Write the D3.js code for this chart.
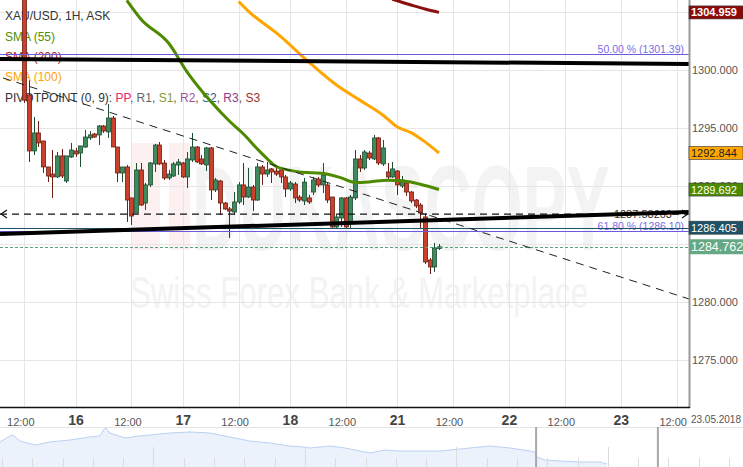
<!DOCTYPE html>
<html><head><meta charset="utf-8">
<script src="https://cdn.jsdelivr.net/npm/d3@7/dist/d3.min.js"></script>
<style>body{margin:0;background:#fff;overflow:hidden}svg{display:block;font-family:"Liberation Sans",Arial,sans-serif}</style>
</head><body><svg id="c" width="743" height="467"></svg>
<script>
// ---------- DATA ----------
const candleOpen  = [1308,1297.84,1293.02,1294.57,1293.88,1291.64,1291.03,1290.78,1292.59,1290.43,1292.50,1293.02,1292.84,1293.36,1294.14,1294.48,1294.40,1295.17,1294.66,1295.86,1293.36,1291.12,1291.64,1288.97,1287.67,1291.38,1288.53,1290.09,1291.90,1293.53,1291.98,1290.69,1290.86,1291.81,1291.98,1290.78,1292.24,1293.36,1292.33,1291.81,1293.28,1289.66,1290.43,1288.53,1288.02,1287.76,1288.62,1290.09,1289.05,1289.91,1288.79,1291.64,1291.03,1291.47,1291.29,1291.38,1290.78,1289.74,1290.17,1289.05,1288.71,1288.97,1289.48,1290.60,1290.09,1290.09,1289.05,1286.47,1287.24,1288.97,1286.81,1288.97,1292.33,1291.55,1292.84,1292.33,1294.14,1291.90,1291.21,1290.78,1291.29,1290.00,1290.26,1289.48,1288.79,1288.36,1287.33,1283.62,1283.02,1284.62];
const candleHigh  = [1309,1299.10,1295.95,1295.60,1293.88,1291.64,1293.10,1292.93,1293.19,1292.59,1293.71,1293.28,1293.45,1294.83,1294.74,1294.57,1295.26,1295.26,1297.07,1296.03,1293.36,1291.64,1291.81,1288.97,1291.98,1291.98,1290.26,1292.07,1293.62,1293.79,1292.24,1291.38,1292.07,1292.33,1292.07,1292.93,1294.57,1293.45,1292.67,1293.36,1293.36,1290.69,1290.52,1288.62,1288.19,1289.48,1290.34,1291.98,1291.55,1290.09,1291.98,1291.81,1292.07,1291.55,1291.64,1291.55,1290.95,1290.43,1290.34,1289.22,1290.69,1289.22,1290.78,1290.78,1291.98,1290.26,1289.05,1287.50,1289.05,1289.05,1289.22,1293.10,1292.67,1293.10,1293.02,1294.40,1294.22,1293.97,1291.98,1292.07,1291.38,1290.86,1290.34,1289.57,1288.88,1288.53,1287.67,1283.79,1285.09,1285.00];
const candleLow   = [1297.16,1292.07,1292.67,1293.36,1291.12,1290.34,1288.97,1290.69,1290.69,1290.26,1292.41,1292.50,1291.64,1293.28,1293.97,1294.14,1293.53,1294.57,1294.14,1293.36,1290.34,1290.34,1286.90,1286.64,1287.67,1288.28,1287.93,1289.91,1291.21,1291.81,1290.52,1290.52,1290.78,1290.95,1290.69,1289.83,1292.07,1291.98,1291.81,1291.29,1288.79,1289.48,1287.50,1287.93,1285.52,1287.50,1288.45,1288.36,1288.97,1287.84,1288.71,1290.09,1290.78,1290.26,1290.86,1290.26,1289.05,1289.57,1288.53,1288.62,1288.36,1288.45,1289.22,1289.91,1289.40,1288.53,1286.38,1286.38,1286.47,1286.38,1286.38,1288.79,1291.21,1291.38,1292.24,1292.24,1291.81,1291.72,1290.52,1290.69,1289.22,1289.83,1289.14,1288.53,1288.10,1286.38,1283.28,1282.41,1282.59,1284.48];
const candleClose = [1297.40,1293.02,1294.57,1293.71,1291.64,1290.86,1290.78,1292.59,1290.86,1292.59,1293.10,1292.76,1293.45,1294.22,1294.40,1294.22,1295.17,1294.74,1295.86,1293.36,1291.12,1291.64,1288.79,1287.41,1291.38,1288.36,1290.09,1291.98,1293.53,1291.90,1290.69,1291.03,1291.90,1292.07,1290.78,1292.33,1293.36,1292.07,1291.90,1293.28,1289.66,1290.52,1288.53,1288.02,1287.84,1288.62,1290.09,1289.05,1289.91,1288.79,1291.64,1291.03,1291.38,1291.21,1291.03,1290.78,1289.74,1290.26,1288.97,1288.79,1290.34,1288.62,1290.52,1290.09,1290.95,1288.79,1286.47,1287.33,1288.97,1286.47,1289.05,1292.33,1291.55,1292.93,1292.41,1294.14,1291.98,1293.28,1290.78,1291.47,1290.09,1290.52,1289.48,1288.71,1288.28,1287.67,1283.45,1283.02,1284.66,1284.762];

const sma55Idx  = [22,25,31,35,40,44,47,50,52,54,57,59,64,68,71,74,78,81,85,89];
const sma55Val  = [1306.0,1304.4,1302.3,1299.8,1297.3,1295.6,1294.5,1293.2,1292.4,1291.7,1291.35,1291.2,1291.1,1290.7,1290.3,1290.35,1290.5,1290.45,1290.15,1289.692];
const sma100Idx = [46,48,55,61,67,72,77,80,83,86,89];
const sma100Val = [1305.9,1305.1,1302.9,1300.7,1298.7,1297.4,1296.1,1295.1,1294.6,1293.8,1292.844];
const sma200Idx = [79,83,86,89];
const sma200Val = [1306.1,1305.6,1305.25,1304.959];

const xTickIdx    = [0,11,23,34,46,57,69,80,92,104,116,128,140];
const xTickLabels = ["12:00","16","12:00","17","12:00","18","12:00","21","12:00","22","12:00","23","12:00"];
const yTickValues = [1275,1280,1285,1290,1295,1300,1305];

const fibLevels = [50.00, 61.80];
const fibPrices = [1301.39, 1286.10];
const pivotS2 = 1286.405;
const hLinePrice = 1287.58203;
const lastPrice = 1284.762;
// trend lines [idx0, price0, idx1, price1]
const thickLines = [[-5.21,1300.95,142.65,1300.52],[-5.21,1285.86,142.65,1287.76]];
const dashedTrend = [-4.57,1299.31,142.65,1280.26];

// navigator (days, price)
const navDay = [-0.07,0.26,0.36,0.59,1.09,1.42,1.58,1.91,2.24,2.90,3.23,3.37,3.43,3.56,4.06,4.55,4.88,5.54,6.20,6.86,7.52,8.18,8.84,9.50,9.97,10.17,10.83,11.32,11.82,12.15,12.64,13.14,13.80,14.46,15.12,15.78,16.11,16.44,16.77,17.43,17.59,17.66,17.92,18.42,19.08,19.74,19.97];
const navVal = [1296.25,1300.15,1300.8,1296.9,1294.3,1295.6,1296.25,1296.9,1297.55,1299.5,1300.15,1304.7,1305.35,1302.1,1298.85,1300.15,1300.8,1302.1,1302.75,1302.1,1299.5,1296.9,1295.6,1293.65,1293.0,1292.35,1293.65,1292.35,1290.4,1289.1,1291.05,1290.4,1290.4,1290.4,1291.7,1293.0,1293.65,1293.0,1292.35,1290.4,1289.75,1286.5,1284.55,1283.9,1283.25,1283.25,1281.95];
const navWindow = [17.63, 21.65];

// ---------- SCALES ----------
const W = 689, H = 407;
const svg = d3.select("#c");
const x = d3.scaleLinear().domain([-5.21,142.65]).range([0,W]);
const y = d3.scaleLinear().domain([1270.95,1306.03]).range([H,0]);

svg.append("defs").append("clipPath").attr("id","plot").append("rect").attr("x",0).attr("y",0).attr("width",W).attr("height",H);

// ---------- WATERMARK ----------
const wm = svg.append("g").attr("clip-path","url(#plot)");
wm.append("rect").attr("x",132).attr("y",143).attr("width",58).attr("height",107).attr("fill","#fcf0f0");
wm.append("rect").attr("x",160).attr("y",143).attr("width",9).attr("height",107).attr("fill","#fff");
wm.append("text").attr("x",192).attr("y",250).attr("font-size",120).attr("font-weight","bold")
  .attr("textLength",418).attr("lengthAdjust","spacingAndGlyphs").attr("fill","#f3f3f3").text("DUKASCOPY");
wm.append("text").attr("x",130).attr("y",308).attr("font-size",44)
  .attr("textLength",458).attr("lengthAdjust","spacingAndGlyphs").attr("fill","#f3f3f3").text("Swiss Forex Bank & Marketplace");

// ---------- GRID ----------
const grid = svg.append("g");
grid.selectAll(".gy").data(yTickValues).join("line")
  .attr("x1",0).attr("x2",W).attr("y1",d=>Math.round(y(d))+0.5).attr("y2",d=>Math.round(y(d))+0.5)
  .attr("stroke","#e6e6e6");
grid.selectAll(".gx").data(xTickIdx).join("line")
  .attr("y1",0).attr("y2",H).attr("x1",d=>Math.round(x(d))+0.5).attr("x2",d=>Math.round(x(d))+0.5)
  .attr("stroke","#e6e6e6");

// ---------- LEGEND ----------
const lg = svg.append("g").attr("font-size",12);
lg.append("text").attr("x",5).attr("y",20).attr("fill","#333").text("XAU/USD, 1H, ASK");
lg.append("text").attr("x",5).attr("y",40.5).attr("fill","#4f8f00").text("SMA (55)");
lg.append("text").attr("x",5).attr("y",60.5).attr("fill","#a52a2a").text("SMA (200)");
lg.append("text").attr("x",5).attr("y",80.5).attr("fill","#ffa500").text("SMA (100)");
const pv = lg.append("text").attr("x",5).attr("y",101.5).attr("fill","#333");
const pvParts = [["PIVOTPOINT (0, 9): ","#333"],["PP","#e8246b"],[", ","#555"],["R1","#666"],[", ","#555"],["S1","#8a9a2a"],[", ","#555"],["R2","#a050a0"],[", ","#555"],["S2","#2a6080"],[", ","#555"],["R3","#8a3a8a"],[", ","#555"],["S3","#a03030"]];
pvParts.forEach(p=>pv.append("tspan").attr("fill",p[1]).text(p[0]));

// ---------- CANDLES ----------
const plot = svg.append("g").attr("clip-path","url(#plot)");
const idx = d3.range(candleOpen.length);
const up = i => candleClose[i] >= candleOpen[i];
const cg = plot.append("g");
cg.selectAll("line.w").data(idx).join("line")
  .attr("x1",i=>Math.round(x(i))+0.5).attr("x2",i=>Math.round(x(i))+0.5)
  .attr("y1",i=>y(candleHigh[i])).attr("y2",i=>y(candleLow[i]))
  .attr("stroke",i=>up(i)?"#1f4f33":"#6e1f14").attr("stroke-width",1);
cg.selectAll("rect.b").data(idx).join("rect")
  .attr("x",i=>Math.round(x(i))-1.5).attr("width",4)
  .attr("y",i=>y(Math.max(candleOpen[i],candleClose[i])))
  .attr("height",i=>Math.max(1,Math.abs(y(candleOpen[i])-y(candleClose[i]))))
  .attr("fill",i=>up(i)?"#3d8a5c":"#c9402c")
  .attr("stroke",i=>up(i)?"#1f4f33":"#6e1f14").attr("stroke-width",0.8);

// ---------- SMA ----------
const lineGen = d3.line().x(d=>x(d[0])).y(d=>y(d[1])).curve(d3.curveMonotoneX);
[[sma200Idx,sma200Val,"#8b1010"],[sma100Idx,sma100Val,"#ffa500"],[sma55Idx,sma55Val,"#4e8a00"]].forEach(s=>{
  plot.append("path").datum(s[0].map((d,k)=>[d,s[1][k]])).attr("d",lineGen)
    .attr("fill","none").attr("stroke",s[2]).attr("stroke-width",3).attr("stroke-linejoin","round");
});

// ---------- HORIZONTAL LEVELS ----------
fibPrices.forEach((p,k)=>{
  plot.append("line").attr("x1",0).attr("x2",W).attr("y1",Math.round(y(p))+0.5).attr("y2",Math.round(y(p))+0.5)
    .attr("stroke","#6a5ae0").attr("stroke-width",1);
  plot.append("text").attr("x",684).attr("y",Math.round(y(p))-1).attr("text-anchor","end")
    .attr("font-size",10.5).attr("fill","#7a6ee6").text(fibLevels[k].toFixed(2)+" % ("+p.toFixed(2)+")");
});
plot.append("line").attr("x1",0).attr("x2",W).attr("y1",Math.round(y(pivotS2))+0.5).attr("y2",Math.round(y(pivotS2))+0.5)
  .attr("stroke","#1e5268").attr("stroke-width",1);
plot.append("line").attr("x1",0).attr("x2",W).attr("y1",Math.round(y(lastPrice))+0.5).attr("y2",Math.round(y(lastPrice))+0.5)
  .attr("stroke","#5aa37a").attr("stroke-width",1).attr("stroke-dasharray","3,2");

// dashed horizontal with label
plot.append("text").attr("x",672).attr("y",y(hLinePrice)+4).attr("text-anchor","end")
  .attr("font-size",11).attr("fill","#333").text(hLinePrice.toFixed(5));
plot.append("line").attr("x1",0).attr("x2",W).attr("y1",y(hLinePrice)).attr("y2",y(hLinePrice))
  .attr("stroke","#111").attr("stroke-width",1.3).attr("stroke-dasharray","7,5");
const hy = y(hLinePrice);
plot.append("path").attr("d",`M7,${hy-4}L1,${hy}L7,${hy+4}`).attr("fill","none").attr("stroke","#111").attr("stroke-width",1.2);
plot.append("path").attr("d",`M${W-7},${hy-4}L${W-1},${hy}L${W-7},${hy+4}`).attr("fill","none").attr("stroke","#111").attr("stroke-width",1.2);

// dashed trend
plot.append("line").attr("x1",x(dashedTrend[0])).attr("y1",y(dashedTrend[1])).attr("x2",x(dashedTrend[2])).attr("y2",y(dashedTrend[3]))
  .attr("stroke","#222").attr("stroke-width",1).attr("stroke-dasharray","8,6");

// thick lines
thickLines.forEach(t=>{
  plot.append("line").attr("x1",x(t[0])).attr("y1",y(t[1])).attr("x2",x(t[2])).attr("y2",y(t[3]))
    .attr("stroke","#000").attr("stroke-width",4);
});

// ---------- AXES ----------
const yAxis = svg.append("g").attr("transform",`translate(${W},0)`)
  .call(d3.axisRight(y).tickValues(yTickValues).tickFormat(d3.format(".3f")).tickSize(0).tickPadding(3));
yAxis.select(".domain").remove();
yAxis.selectAll("text").attr("font-size",11).attr("fill","#555").attr("font-family","Liberation Sans, Arial, sans-serif");
svg.append("line").attr("x1",W+0.5).attr("x2",W+0.5).attr("y1",0).attr("y2",H+1).attr("stroke","#999").attr("stroke-width",2);

const xAxis = svg.append("g").attr("transform",`translate(0,${H})`)
  .call(d3.axisBottom(x).tickValues(xTickIdx).tickFormat((d,i)=>xTickLabels[i]).tickSize(0).tickPadding(9));
xAxis.select(".domain").remove();
const isTime = (d,i)=>xTickLabels[i].includes(":");
xAxis.selectAll("text").attr("font-family","Liberation Sans, Arial, sans-serif")
  .attr("font-size",(d,i)=>isTime(d,i)?11:14)
  .attr("font-weight",(d,i)=>isTime(d,i)?"normal":"bold")
  .attr("fill",(d,i)=>isTime(d,i)?"#555":"#444")
  .attr("dx",(d,i)=>isTime(d,i)?-4:0)
  .attr("dy",(d,i)=>isTime(d,i)?"0.9em":"0.65em");
svg.append("line").attr("x1",0).attr("x2",W+1).attr("y1",H+0.5).attr("y2",H+0.5).attr("stroke","#111").attr("stroke-width",1.5);
svg.append("text").attr("x",741).attr("y",423).attr("text-anchor","end").attr("font-size",10).attr("fill","#555").text("23.05.2018");

// ---------- VALUE LABELS ----------
const valueLabels = [
  {v:sma200Val[sma200Val.length-1], bg:"#8b0a0a", fg:"#fff", fs:11, bold:true},
  {v:sma100Val[sma100Val.length-1], bg:"#ffa500", fg:"#222", fs:11, bold:false},
  {v:sma55Val[sma55Val.length-1], bg:"#4e8a00", fg:"#fff", fs:11, bold:false},
  {v:pivotS2, bg:"#1e5268", fg:"#fff", fs:11, bold:false},
  {v:lastPrice, bg:"#66a883", fg:"#fff", fs:12.5, bold:false, big:true}
];
valueLabels.forEach(l=>{
  const h = l.big?15:13, cy = y(l.v);
  svg.append("rect").attr("x",689).attr("y",cy-h/2).attr("width",54).attr("height",h)
    .attr("fill",l.bg).attr("stroke",l.big?"none":"#333").attr("stroke-width",0.6);
  svg.append("text").attr("x",691).attr("y",cy+(l.big?4.5:4)).attr("font-size",l.fs)
    .attr("font-weight",l.bold?"bold":"normal").attr("fill",l.fg).text(l.v.toFixed(3));
});

// ---------- NAVIGATOR ----------
const nx = d3.scaleLinear().domain([-0.066,24.46]).range([0,743]);
const ny = d3.scaleLinear().domain([1280,1306]).range([467,427]);
const nav = svg.append("g");
nav.append("line").attr("x1",0).attr("x2",743).attr("y1",427.5).attr("y2",427.5).attr("stroke","#e4e4e4");
const navPts = navDay.map((d,k)=>[d,navVal[k]]);
nav.append("path").datum(navPts)
  .attr("d",d3.area().x(d=>nx(d[0])).y0(467).y1(d=>ny(d[1])))
  .attr("fill","#ebf2fc");
nav.append("path").datum(navPts)
  .attr("d",d3.line().x(d=>nx(d[0])).y(d=>ny(d[1])))
  .attr("fill","none").attr("stroke","#bcd1f2").attr("stroke-width",1);
const navTicks = d3.range(0,25,1);
nav.selectAll(".nt").data(navTicks).join("line")
  .attr("x1",d=>Math.round(nx(d))+0.5).attr("x2",d=>Math.round(nx(d))+0.5)
  .attr("y1",d=>d%5===0&&d>0?447:458).attr("y2",467)
  .attr("stroke","#dcdcdc");
navWindow.forEach(d=>{
  nav.append("line").attr("x1",nx(d)).attr("x2",nx(d)).attr("y1",427).attr("y2",467)
    .attr("stroke","#a8a8a8").attr("stroke-width",2);
});
</script></body></html>
